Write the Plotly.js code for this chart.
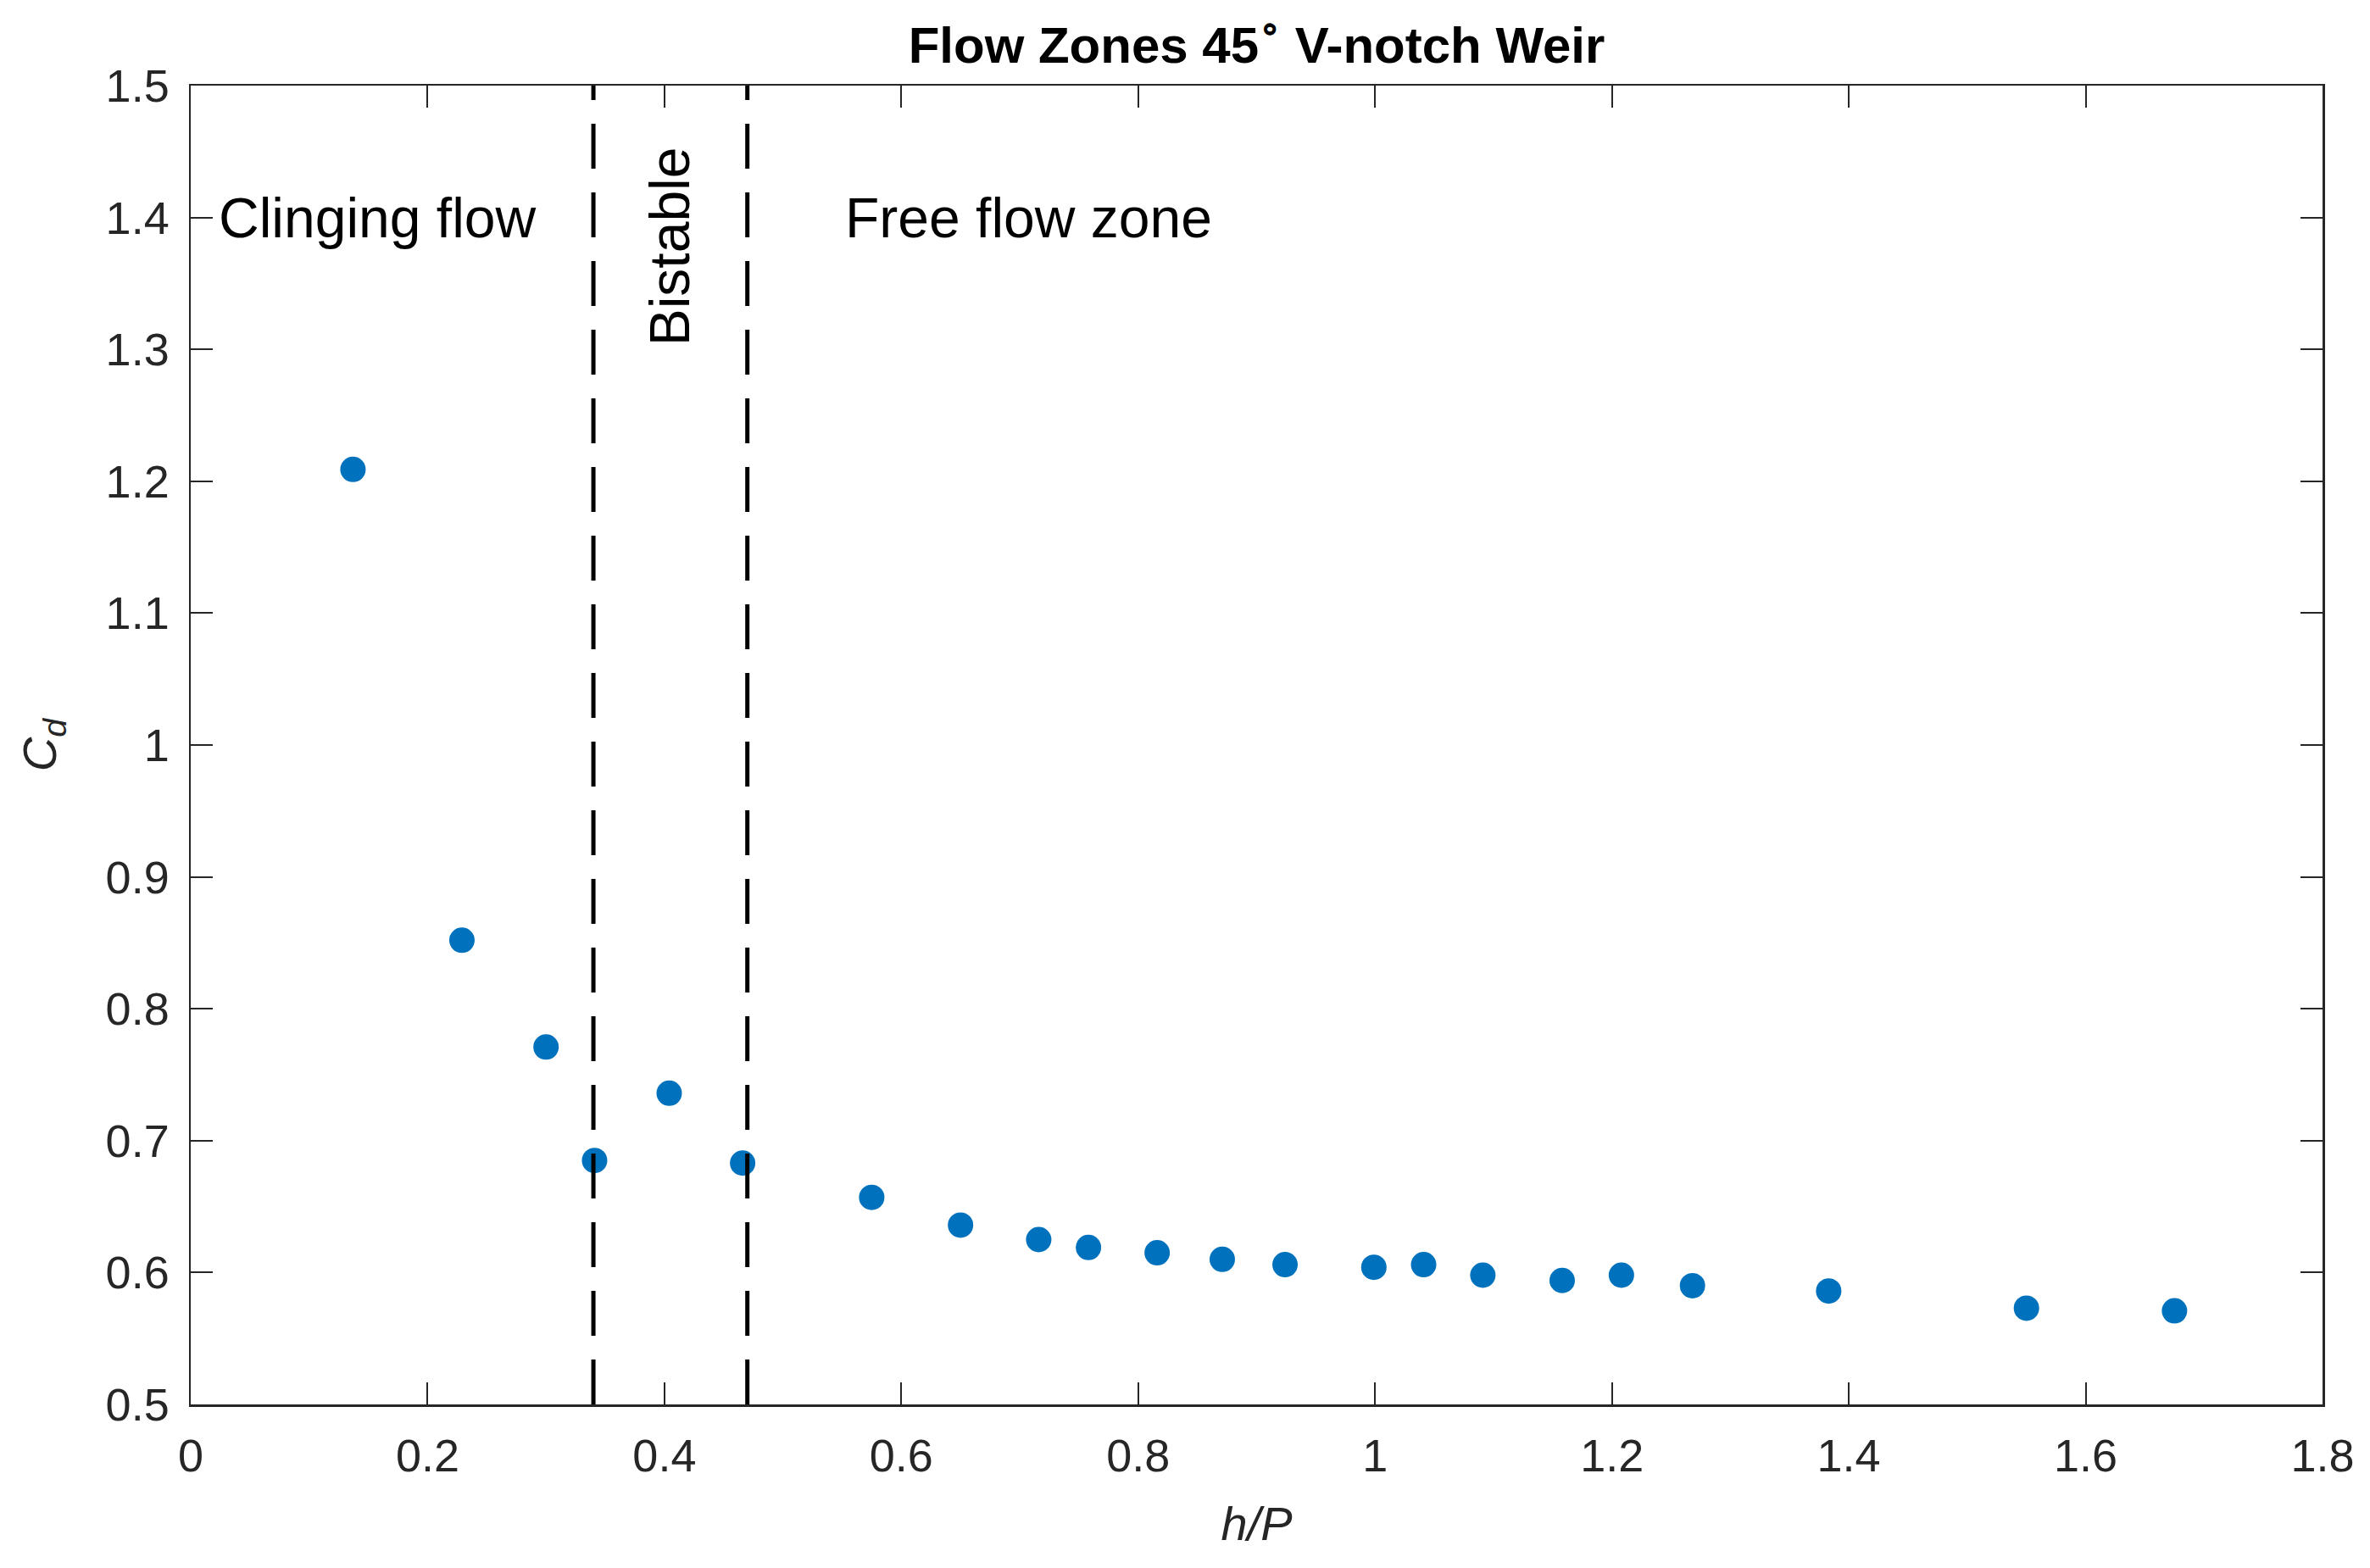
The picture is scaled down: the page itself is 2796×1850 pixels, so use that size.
<!DOCTYPE html>
<html>
<head>
<meta charset="utf-8">
<script src="https://cdn.plot.ly/plotly-3.0.1.min.js"></script>
<style>
	html, body { margin: 0; padding: 0; background: #fff; }
	#plot { width: 2796px; height: 1850px; }
</style>
</head>
<body>
<div id="plot"></div>
<script>
// measured h/P and Cd values
const hP = [
	0.137, 0.229, 0.300, 0.341, 0.404, 0.466, 0.575, 0.650, 0.716, 0.758, 0.816,
	0.871, 0.924, 0.999, 1.041, 1.091, 1.158, 1.208, 1.268, 1.383, 1.550, 1.675,
];
const cd = [
	1.209, 0.852, 0.771, 0.685, 0.736, 0.683, 0.657, 0.636, 0.625, 0.619, 0.615,
	0.610, 0.606, 0.604, 0.606, 0.598, 0.594, 0.598, 0.590, 0.586, 0.573, 0.571,
];

// zone boundaries (dashed lines)
const zoneBounds = [0.34, 0.47];

const zoneLabels = ["Clinging flow", "Bistable", "Free flow zone"];
const zoneLabelX = [0.022, 0.404, 0.551];
const zoneLabelY = [1.40, 1.378, 1.40];

const xTicks = [0, 0.2, 0.4, 0.6, 0.8, 1, 1.2, 1.4, 1.6, 1.8];
const yTicks = [0.5, 0.6, 0.7, 0.8, 0.9, 1, 1.1, 1.2, 1.3, 1.4, 1.5];

const FONT = "Liberation Sans, Arial, sans-serif";
const AXIS_COLOR = "#262626";

const axisBase = {
	showline: true,
	mirror: "ticks",
	linecolor: AXIS_COLOR,
	linewidth: 2.5,
	ticks: "inside",
	ticklen: 26,
	tickwidth: 2,
	tickcolor: AXIS_COLOR,
	showgrid: false,
	zeroline: false,
	tickfont: { family: FONT, size: 54, color: AXIS_COLOR },
};

const data = [
	{
		type: "scatter",
		mode: "markers",
		x: hP,
		y: cd,
		marker: { color: "#0072BD", size: 30 },
		hoverinfo: "skip",
	},
];

const shapes = zoneBounds.map(b => ({
	type: "line",
	xref: "x",
	yref: "y",
	x0: b,
	x1: b,
	y0: 0.5,
	y1: 1.5,
	line: { color: "#000", width: 5, dash: "53px,28px" },
}));

const annotations = zoneLabels.map((t, i) => ({
	text: t,
	x: zoneLabelX[i],
	y: zoneLabelY[i],
	xref: "x",
	yref: "y",
	showarrow: false,
	xanchor: i === 1 ? "center" : "left",
	yanchor: "middle",
	textangle: i === 1 ? -90 : 0,
	font: { family: FONT, size: 66, color: "#000" },
}));

const layout = {
	width: 2796,
	height: 1850,
	margin: { l: 225, r: 56, t: 101, b: 193 },
	paper_bgcolor: "#fff",
	plot_bgcolor: "#fff",
	showlegend: false,
	hovermode: false,
	title: {
		text: "<b>Flow Zones 45<sup>∘</sup> V-notch Weir</b>",
		font: { family: FONT, size: 60, color: "#000" },
		x: 0.5,
		xref: "paper",
		xanchor: "center",
		y: 1 - 74 / 1850,
		yref: "container",
		yanchor: "bottom",
	},
	xaxis: {
		...axisBase,
		range: [0, 1.8],
		tickvals: xTicks,
		ticktext: xTicks.map(String),
		ticklabelstandoff: 12,
		title: {
			text: "<i>h/P</i>",
			font: { family: FONT, size: 56, color: AXIS_COLOR },
			standoff: 32,
		},
	},
	yaxis: {
		...axisBase,
		range: [0.5, 1.5],
		tickvals: yTicks,
		ticktext: yTicks.map(String),
		ticklabelstandoff: 12,
		title: {
			text: "<i>C</i><sub><i>d</i></sub>",
			font: { family: FONT, size: 56, color: AXIS_COLOR },
			standoff: 40,
		},
	},
	shapes,
	annotations,
};

Plotly.newPlot("plot", data, layout, { displayModeBar: false, staticPlot: true });
</script>
</body>
</html>
